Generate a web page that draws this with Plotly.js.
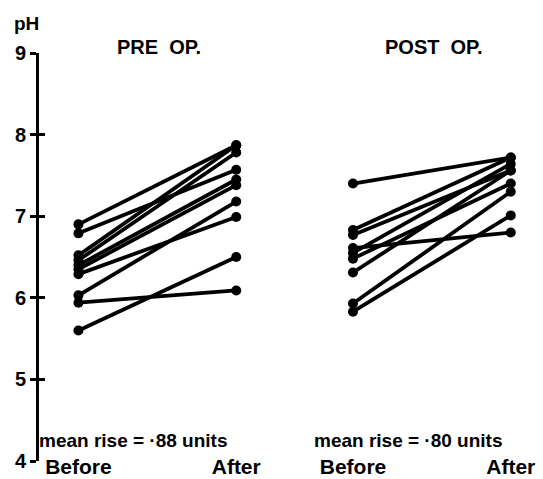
<!DOCTYPE html>
<html>
<head>
<meta charset="utf-8">
<script src="https://cdn.plot.ly/plotly-3.0.1.min.js"></script>
<style>html,body{margin:0;padding:0;background:#fff;}#chart{width:543px;height:479px;}</style>
</head>
<body>
<div id="chart"></div>
<script>
// ---- data ----
const timepoints = ['Before', 'After'];
const panels = ['PRE  OP.', 'POST  OP.'];
const preBefore  = [6.90, 6.79, 6.52, 6.46, 6.40, 6.35, 6.29, 6.03, 5.94, 5.60];
const preAfter   = [7.87, 7.57, 7.87, 7.78, 7.45, 7.38, 6.99, 7.18, 6.09, 6.50];
const postBefore = [7.40, 6.83, 6.77, 6.61, 6.55, 6.48, 6.31, 5.93, 5.83];
const postAfter  = [7.72, 7.72, 7.56, 6.80, 7.64, 7.40, 7.56, 7.30, 7.01];
const meanRise = ['mean rise = ·88 units', 'mean rise = ·80 units'];
const yTicks = [4, 5, 6, 7, 8, 9];

// ---- layout helpers ----
const panelPos = [[0, 1], [1.74, 2.74]];
const FONT = '"Liberation Sans", Arial, sans-serif';

function pairTrace(before, after, pos) {
  const x = [], y = [];
  for (let i = 0; i < before.length; i++) {
    x.push(pos[0], pos[1], null);
    y.push(before[i], after[i], null);
  }
  return {
    x: x, y: y, type: 'scatter', mode: 'lines+markers',
    line: {color: '#000', width: 3.8},
    marker: {color: '#000', size: 10},
    connectgaps: false, hoverinfo: 'skip', showlegend: false, cliponaxis: false
  };
}

const traces = [
  pairTrace(preBefore, preAfter, panelPos[0]),
  pairTrace(postBefore, postAfter, panelPos[1])
];

const tickvals = [], ticktext = [];
panelPos.forEach(p => { tickvals.push(p[0], p[1]); ticktext.push(timepoints[0], timepoints[1]); });

const annotations = [
  {text: 'pH', xref: 'paper', yref: 'paper', x: 0, xanchor: 'center', xshift: -13,
   y: 1.0, yanchor: 'middle', yshift: 30, showarrow: false,
   font: {family: FONT, size: 19, color: '#000', weight: 'bold'}},
];
panels.forEach((t, i) => {
  annotations.push({text: t, xref: 'x', yref: 'paper', x: (panelPos[i][0] + panelPos[i][1]) / 2 + 0.01,
    y: 1.0, yanchor: 'middle', yshift: 6, showarrow: false,
    font: {family: FONT, size: 20, color: '#000', weight: 'bold'}});
  annotations.push({text: meanRise[i], xref: 'x', yref: 'paper', x: (panelPos[i][0] + panelPos[i][1]) / 2 - 0.15,
    y: 0.051, yanchor: 'middle', showarrow: false,
    font: {family: FONT, size: 19, color: '#000', weight: 'bold'}});
});

const layout = {
  width: 543, height: 479,
  margin: {l: 39, r: 7, t: 53, b: 18},
  paper_bgcolor: '#fff', plot_bgcolor: '#fff',
  showlegend: false,
  xaxis: {
    range: [-0.25, 2.9], showgrid: false, zeroline: false, showline: false,
    tickvals: tickvals, ticktext: ticktext, ticks: '', ticklabelstandoff: -9,
    tickfont: {family: FONT, size: 21, color: '#000', weight: 'bold'}
  },
  yaxis: {
    range: [4, 9], showgrid: false, zeroline: false,
    showline: true, linecolor: '#000', linewidth: 3,
    tickvals: yTicks, ticks: 'outside', ticklen: 6, tickwidth: 3, tickcolor: '#000',
    tickfont: {family: FONT, size: 20, color: '#000', weight: 'bold'}
  },
  yaxis2: {
    range: [4, 9], overlaying: 'y', side: 'left', anchor: 'x',
    showgrid: false, zeroline: false, showline: false,
    tickvals: yTicks, ticks: 'inside', ticklen: 6, tickwidth: 3, tickcolor: '#000',
    showticklabels: false
  },
  annotations: annotations
};

traces.push({x: [null], y: [null], yaxis: 'y2', type: 'scatter', mode: 'lines', showlegend: false, hoverinfo: 'skip'});

Plotly.newPlot('chart', traces, layout, {staticPlot: true, displayModeBar: false});
</script>
</body>
</html>
